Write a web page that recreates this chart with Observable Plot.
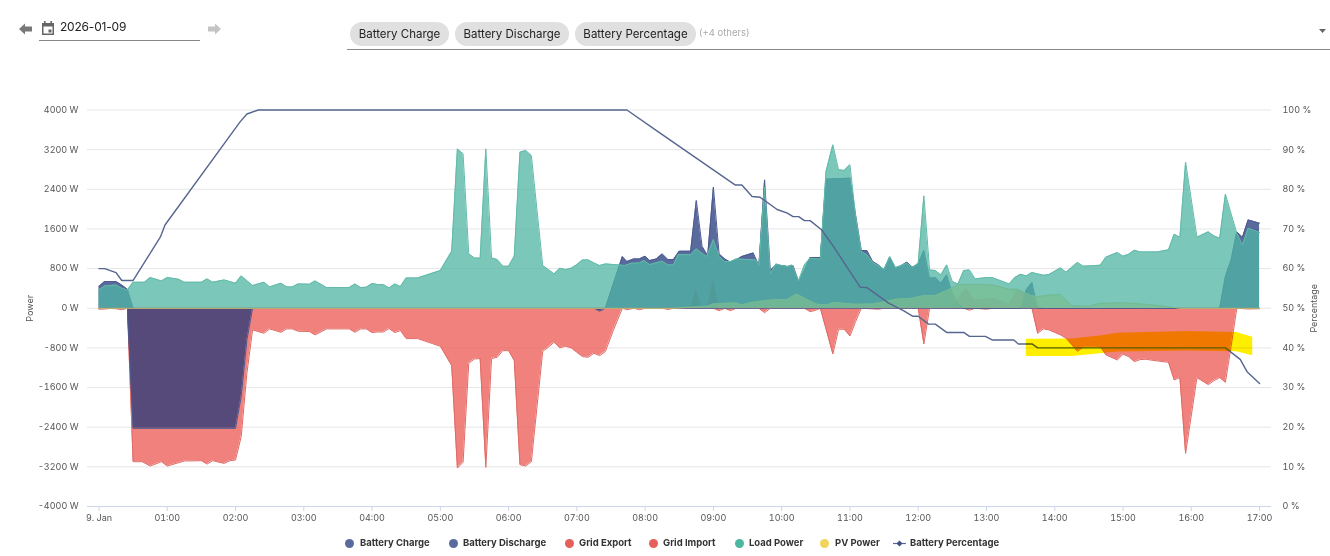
<!DOCTYPE html>
<html>
<head>
<meta charset="utf-8">
<script src="https://cdn.jsdelivr.net/npm/d3@7"></script>
<script src="https://cdn.jsdelivr.net/npm/@observablehq/plot@0.6"></script>
<style>
html,body{margin:0;padding:0;background:#fff;width:1330px;height:556px;overflow:hidden;font-family:Inter,"Noto Sans",sans-serif;color:#222}
.abs{position:absolute}
.chip{position:absolute;top:22px;height:24px;line-height:24px;border-radius:12px;background:#e0e0e0;text-align:center;font-size:11.5px;color:#222}
.lg{position:absolute;top:536px;font-size:9.5px;font-weight:700;line-height:14px;color:#333;white-space:nowrap}
.dot{position:absolute;top:538.5px;width:9px;height:9px;border-radius:50%}
#chart{position:absolute;left:0;top:70px}
</style>
</head>
<body>
<svg class="abs" style="left:18px;top:22px" width="16" height="14" viewBox="0 0 16 14"><path d="M1 7 L7 1.5 V4.5 H14 V9.5 H7 V12.5 Z" fill="#777"/></svg>
<svg class="abs" style="left:40px;top:20px" width="16" height="16" viewBox="0 0 16 16"><path d="M2 3 H14 V15 H2 Z M3.5 6.5 V13.5 H12.5 V6.5 Z" fill="#666" fill-rule="evenodd"/><rect x="4" y="1" width="1.6" height="3" fill="#666"/><rect x="10.4" y="1" width="1.6" height="3" fill="#666"/><rect x="8.5" y="9.5" width="3" height="3" fill="#666"/></svg>
<div class="abs" style="left:60px;top:18px;font-size:12px;letter-spacing:-.2px;line-height:18px;color:#222">2026-01-09</div>
<div class="abs" style="left:39px;top:40px;width:161px;height:1px;background:#888"></div>
<svg class="abs" style="left:206px;top:22px" width="16" height="14" viewBox="0 0 16 14"><path d="M15 7 L9 1.5 V4.5 H2 V9.5 H9 V12.5 Z" fill="#c4c4c4"/></svg>
<div class="chip" style="left:350px;width:99px">Battery Charge</div>
<div class="chip" style="left:455px;width:114px">Battery Discharge</div>
<div class="chip" style="left:575px;width:121px">Battery Percentage</div>
<div class="abs" style="left:699px;top:26px;font-size:9.5px;line-height:14px;color:#aaa">(+4 others)</div>
<div class="abs" style="left:347px;top:49px;width:983px;height:1px;background:#888"></div>
<svg class="abs" style="left:1319px;top:29px" width="7" height="5"><path d="M0 0 H7 L3.5 4 Z" fill="#666"/></svg>

<div id="chart"></div>

<div class="dot" style="left:345px;background:#5a6a9c"></div><div class="lg" style="left:360px">Battery Charge</div>
<div class="dot" style="left:449px;background:#5a6a9c"></div><div class="lg" style="left:463px">Battery Discharge</div>
<div class="dot" style="left:565px;background:#e5605b"></div><div class="lg" style="left:579px">Grid Export</div>
<div class="dot" style="left:649px;background:#e5605b"></div><div class="lg" style="left:663px">Grid Import</div>
<div class="dot" style="left:735px;background:#4db6a0"></div><div class="lg" style="left:749px">Load Power</div>
<div class="dot" style="left:820px;background:#f2d45b"></div><div class="lg" style="left:835px">PV Power</div>
<svg class="abs" style="left:893px;top:539px" width="13" height="9"><path d="M0 4.5 H13" stroke="#5a6a9c" stroke-width="1.2"/><path d="M6.5 1.5 L9.5 4.5 L6.5 7.5 L3.5 4.5 Z" fill="#3f4f85"/></svg>
<div class="lg" style="left:910px">Battery Percentage</div>

<script>
// [minutes after midnight, watts]
const gridImport = [[0,-20],[5,-15],[10,-5],[15,-10],[20,-30],[25,0],[30,-3096],[38,-3096],[45,-3183],[55,-3096],[60,-3183],[70,-3116],[75,-3082],[90,-3076],[95,-3143],[100,-3076],[110,-3130],[115,-3076],[120,-3062],[125,-2590],[130,-1312],[135,-437],[145,-505],[150,-417],[160,-485],[165,-417],[170,-417],[175,-464],[185,-471],[190,-538],[200,-417],[220,-417],[225,-485],[230,-417],[235,-417],[240,-491],[245,-478],[250,-478],[255,-410],[260,-491],[265,-450],[270,-612],[280,-612],[300,-767],[310,-1157],[315,-3224],[320,-3109],[325,-1110],[330,-1023],[335,-1016],[340,-3210],[345,-1016],[350,-989],[355,-855],[360,-855],[365,-1056],[370,-3156],[375,-3183],[380,-3096],[390,-868],[395,-787],[400,-686],[405,-800],[410,-767],[415,-800],[420,-888],[425,-976],[430,-989],[435,-908],[440,-955],[445,-875],[452,-450],[460,0],[464,-30],[470,0],[475,-30],[480,0],[495,0],[500,-25],[505,0],[540,0],[545,-50],[550,0],[555,-50],[560,0],[580,0],[585,-90],[590,0],[620,0],[625,-70],[630,-40],[634,0],[645,-922],[650,-424],[655,-424],[660,-559],[665,-269],[670,0],[685,-20],[690,0],[720,0],[725,-720],[730,0],[760,0],[765,-40],[770,0],[780,-20],[785,0],[820,0],[825,-505],[830,-417],[835,-437],[845,-538],[850,-605],[860,-868],[865,-787],[880,-774],[885,-942],[895,-1043],[900,-929],[905,-976],[910,-1077],[915,-1036],[920,-1030],[930,-1063],[940,-1090],[945,-1447],[950,-1400],[955,-2928],[965,-1400],[975,-1541],[980,-1460],[985,-1400],[990,-1494],[995,-774],[1000,0],[1010,-15],[1020,-10]];
const gridExport = [[0,0],[520,0],[525,390],[530,0],[535,0],[540,625],[545,0],[750,0],[755,200],[762,400],[770,168],[785,202],[800,87],[807,370],[820,270],[825,67],[830,0],[1020,0]];
const batteryCharge = [[0,0],[25,0],[30,-2423],[120,-2423],[125,-1783],[130,-640],[135,0],[435,0],[440,-60],[445,0],[1020,0]];
const batteryDischarge = [[0,437],[5,538],[15,538],[20,470],[25,383],[30,0],[445,0],[460,1043],[464,942],[470,996],[475,996],[480,1050],[484,962],[490,996],[495,1097],[500,983],[505,983],[510,1151],[520,1151],[525,2174],[530,1252],[535,1063],[540,2443],[545,1097],[550,996],[555,929],[560,976],[565,1043],[575,1117],[580,861],[585,2591],[590,760],[595,875],[600,861],[605,841],[610,861],[615,525],[620,760],[625,1023],[634,1023],[639,2605],[660,2625],[665,1880],[670,1164],[675,1164],[680,942],[685,875],[690,774],[695,1030],[700,808],[705,855],[710,929],[715,828],[720,888],[725,1164],[730,606],[735,619],[740,505],[745,673],[750,303],[755,100],[760,0],[810,0],[815,370],[820,518],[825,0],[985,0],[990,640],[995,975],[1000,1540],[1005,1433],[1010,1783],[1020,1716]];
const loadPower = [[0,370],[5,450],[15,470],[20,404],[25,370],[30,525],[40,525],[45,619],[55,552],[60,619],[70,585],[75,525],[90,525],[95,592],[100,525],[110,572],[120,505],[125,653],[135,458],[145,525],[150,431],[160,505],[165,431],[170,431],[175,491],[185,485],[190,552],[200,417],[220,417],[225,491],[230,417],[235,425],[240,498],[245,478],[250,478],[255,410],[260,491],[265,437],[270,612],[280,612],[300,760],[310,1150],[315,3215],[320,3115],[325,1097],[330,1016],[335,1010],[340,3215],[345,1016],[350,983],[355,848],[360,848],[365,1050],[370,3150],[375,3183],[380,3082],[390,861],[395,780],[400,693],[405,808],[410,780],[415,808],[420,880],[425,976],[430,976],[435,915],[440,861],[445,895],[457,875],[462,861],[468,908],[475,915],[479,962],[484,881],[495,949],[500,875],[505,875],[509,1083],[520,1077],[525,1198],[530,1110],[534,1043],[540,1386],[545,1043],[550,942],[555,942],[560,996],[577,976],[580,861],[585,2443],[590,693],[595,895],[600,861],[606,841],[609,875],[615,558],[620,875],[625,1010],[634,990],[639,2760],[645,3298],[650,2793],[655,2780],[660,2894],[665,1850],[670,1144],[675,1077],[680,922],[685,861],[690,787],[695,1043],[700,821],[705,861],[710,908],[715,821],[720,908],[725,2268],[730,774],[735,760],[740,673],[745,875],[750,538],[755,491],[760,760],[765,774],[770,592],[780,619],[785,619],[800,491],[805,620],[810,686],[815,653],[820,720],[830,666],[835,680],[845,814],[850,727],[860,922],[865,848],[880,868],[885,1030],[895,1124],[900,1050],[905,1090],[910,1171],[915,1137],[930,1137],[940,1178],[945,1494],[950,1433],[955,2948],[965,1433],[975,1541],[980,1460],[985,1413],[990,2302],[1000,1514],[1005,1279],[1010,1615],[1020,1528]];
const pvPower = [[0,0],[505,0],[520,20],[535,40],[540,87],[552,100],[560,107],[565,67],[575,120],[587,155],[596,175],[605,175],[613,290],[622,180],[631,80],[640,67],[645,114],[655,100],[665,80],[680,87],[692,134],[700,182],[715,202],[725,255],[735,255],[745,357],[755,471],[770,485],[785,471],[800,384],[807,384],[820,250],[825,235],[830,250],[845,283],[855,50],[870,40],[880,100],[900,110],[920,80],[940,30],[950,0],[1020,0]];
// [minutes after midnight, percent]
const batteryPercentage = [[0,60],[5,60],[10,59.5],[15,59],[20,57],[30,57],[54,68],[58,71],[124,97],[130,99],[140,100],[464,100],[490,94.8],[559,81.1],[565,81.1],[574,78.2],[581,78],[596,74.9],[605,74],[610,73.1],[615,73.1],[620,72.1],[625,72.1],[635,69.8],[645,65.8],[669,55.3],[675,55.2],[694,51.3],[707,49.4],[715,48],[720,48],[729,46],[735,46],[745,43.9],[760,43.9],[765,42.9],[779,42.9],[785,42],[804,42],[808,41],[820,41],[825,40],[990,40],[1003,37.1],[1009,34],[1020,31]];
// hand-drawn highlighter stroke: [minutes, upper watts, lower watts]
const highlighter = [[815,-626,-976],[855,-620,-976],[880,-560,-920],[895,-505,-885],[955,-471,-865],[1000,-490,-880],[1014,-585,-956]];

const hourTicks = [0,60,120,180,240,300,360,420,480,540,600,660,720,780,840,900,960,1020];
const hourLabels = ["9. Jan","01:00","02:00","03:00","04:00","05:00","06:00","07:00","08:00","09:00","10:00","11:00","12:00","13:00","14:00","15:00","16:00","17:00"];
const powerTicks = [-4000,-3200,-2400,-1600,-800,0,800,1600,2400,3200,4000];

const BLUE="#23387b", RED="#eb5750", TEAL="#4fb6a4", YELLOW="#f2d45b";
const X=d=>d[0], Y=d=>d[1];
const area=(data,c,o=.75)=>Plot.areaY(data,{x:X,y:Y,fill:c,fillOpacity:o});
const line=(data,c,w=1)=>Plot.lineY(data,{x:X,y:Y,stroke:c,strokeWidth:w});

const plot = Plot.plot({
  width:1330,height:460,
  marginLeft:87,marginRight:59,marginTop:39.5,marginBottom:24,
  style:{fontFamily:'Inter,"Noto Sans",sans-serif',fontSize:"9px",background:"transparent",overflow:"visible"},
  x:{domain:[-10.1,1030.5],axis:null},
  y:{domain:[-4000,4000],axis:null},
  marks:[
    Plot.ruleY(powerTicks.filter(v=>v>-4000),{stroke:"#e6e6e6"}),
    Plot.ruleY([-4000],{stroke:"#ccd6eb"}),
    area(gridImport,RED),line(gridImport,"#e06a66"),
    area(gridExport,RED),
    area(batteryCharge,BLUE),line(batteryCharge,"#4a5a90"),
    area(batteryDischarge,BLUE),line(batteryDischarge,"#4a5a90"),
    area(pvPower,YELLOW),line(pvPower,"#d8c46a"),
    area(loadPower,TEAL),line(loadPower,"#62baa8"),
    Plot.lineY(batteryPercentage,{x:X,y:d=>d[1]*80-4000,stroke:"#56668f",strokeWidth:1.4}),
    Plot.areaY(highlighter,{x:d=>d[0],y1:d=>d[1],y2:d=>d[2],fill:"#ffee00",mixBlendMode:"multiply"}),
    Plot.axisX({ticks:hourTicks,tickFormat:d=>hourLabels[hourTicks.indexOf(d)],tickSize:5,tickPadding:3,stroke:"#ccd6eb",fill:"#555",label:null}),
    Plot.axisY({anchor:"left",ticks:powerTicks,tickFormat:d=>`${d} W`,tickSize:0,tickPadding:9,fill:"#555",label:"Power",labelAnchor:"center",labelArrow:"none",labelOffset:61}),
    Plot.axisY({anchor:"right",ticks:powerTicks,tickFormat:d=>`${(d+4000)/80} %`,tickSize:0,tickPadding:11,fill:"#555",label:"Percentage",labelAnchor:"center",labelArrow:"none",labelOffset:45})
  ]
});
document.getElementById("chart").appendChild(plot);
</script>
</body>
</html>
